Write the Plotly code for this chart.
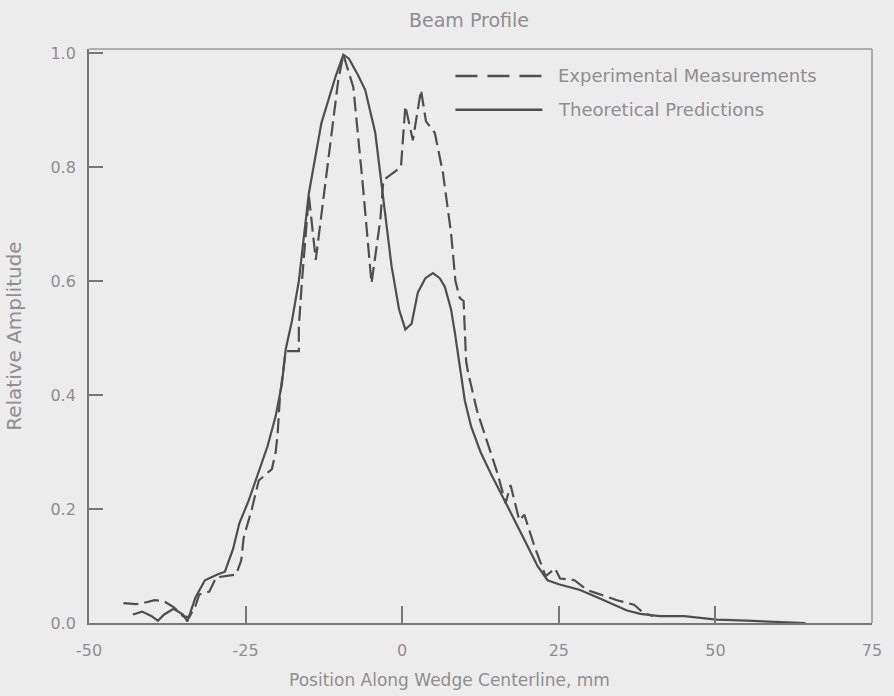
import plotly.graph_objects as go

# Beam profile along the wedge centreline (position in mm, relative amplitude)
exp_x = [-44.5, -42.5, -41, -39.5, -38, -36.5, -35, -34, -33, -32.4, -30.8, -29.7,
         -26.5, -25.7, -25.3, -24, -22.9, -20.8, -20.2, -19.9, -19.5, -18.6, -16.5,
         -16.5, -16, -15.3, -14.9, -13.8, -12, -10.2, -9.4, -7.8, -6.3, -4.9, -3.5,
         -3, -0.2, 0.5, 1.7, 3.0, 3.8, 5.2, 6.5, 7.8, 8.5, 9.2, 9.8, 10.0, 10.2, 10.5,
         12, 13.2, 15.2, 16.5, 17.3, 18.7, 19.5, 21.1, 22.9, 24.4, 25.2, 27.5, 29.5,
         31.1, 34.3, 37, 38.5, 40]
exp_y = [0.035, 0.033, 0.036, 0.04, 0.038, 0.028, 0.012, 0.01, 0.03, 0.05, 0.055, 0.08,
         0.085, 0.11, 0.15, 0.2, 0.25, 0.27, 0.3, 0.33, 0.4, 0.477, 0.477,
         0.52, 0.6, 0.7, 0.75, 0.637, 0.8, 0.953, 0.997, 0.94, 0.77, 0.596, 0.707,
         0.777, 0.80, 0.907, 0.847, 0.935, 0.88, 0.86, 0.79, 0.684, 0.60, 0.57, 0.565, 0.51, 0.46, 0.44,
         0.37, 0.33, 0.263, 0.21, 0.242, 0.18, 0.19, 0.135, 0.082, 0.096, 0.078, 0.075, 0.058,
         0.052, 0.04, 0.032, 0.018, 0.012]

theo_x = [-43, -41.5, -40, -39, -38, -36.5, -35, -34.3, -33, -31.5, -29.5, -28.3, -27, -26,
          -24.5, -23.2, -21.5, -20.2, -19.2, -18.6, -17.6, -16.5, -14.9, -12.9, -10.6, -9.4,
          -8.5, -7, -5.9, -4.3, -3.3, -1.7, -0.5, 0.5, 1.5, 2.5, 3.7, 4.9, 6, 6.8, 7.8, 8.4,
          10, 11, 12.5, 14.1, 16.3, 18, 19.5, 21.6, 23.2, 25, 28.4, 31.1, 33.2, 35.9, 38,
          41.1, 45, 50.2, 55, 60, 64.4]
theo_y = [0.015, 0.02, 0.012, 0.004, 0.015, 0.025, 0.015, 0.003, 0.045, 0.075, 0.085, 0.09,
          0.13, 0.175, 0.215, 0.258, 0.31, 0.363, 0.42, 0.48, 0.53, 0.6, 0.754, 0.877, 0.96,
          0.997, 0.99, 0.96, 0.935, 0.86, 0.77, 0.626, 0.55, 0.515, 0.525, 0.58, 0.605, 0.614,
          0.605, 0.59, 0.55, 0.51, 0.39, 0.345, 0.3, 0.263, 0.216, 0.18, 0.146, 0.1, 0.075,
          0.068, 0.058, 0.045, 0.035, 0.022, 0.016, 0.012, 0.012, 0.006, 0.004, 0.002, 0.0]

x_ticks = [-50, -25, 0, 25, 50, 75]
x_tick_text = ["-50", "-25", "0", "25", "50", "75"]
y_ticks = [0.0, 0.2, 0.4, 0.6, 0.8, 1.0]
y_tick_text = ["0.0", "0.2", "0.4", "0.6", "0.8", "1.0"]

series_names = ["Experimental Measurements", "Theoretical Predictions"]

INK = "#4e4e4e"
TEXT = "#8e8e8e"
AXIS = "#777777"
FRAME = "#999999"
BG = "#ececec"
FONT = "DejaVu Sans"

fig = go.Figure()
fig.add_trace(go.Scatter(x=exp_x, y=exp_y, mode="lines", name=series_names[0],
                         line=dict(color=INK, width=2.2, dash="15px,6px"),
                         showlegend=False))
fig.add_trace(go.Scatter(x=theo_x, y=theo_y, mode="lines", name=series_names[1],
                         line=dict(color=INK, width=2.2), showlegend=False))

# lighter top and right edges of the frame
fig.add_shape(type="line", xref="paper", yref="paper", x0=0, x1=1, y0=1, y1=1,
              line=dict(color=FRAME, width=1.5))
fig.add_shape(type="line", xref="paper", yref="paper", x0=1, x1=1, y0=0, y1=1,
              line=dict(color=FRAME, width=1.5))

# hand-drawn key in the upper right of the plot area
key_rows = [(0.953, "22px,10px"), (0.894, "solid")]
for (yy, dash), label in zip(key_rows, series_names):
    fig.add_shape(type="line", xref="paper", yref="paper", x0=0.468, x1=0.579,
                  y0=yy, y1=yy, line=dict(color=INK, width=2.5, dash=dash))
    fig.add_annotation(xref="paper", yref="paper", x=0.596, y=yy, text=label,
                       showarrow=False, xanchor="left", yanchor="middle",
                       font=dict(family=FONT, size=18, color=TEXT))

fig.add_annotation(xref="paper", yref="paper", x=0.485, y=1.05, text="Beam Profile",
                   showarrow=False, xanchor="center", yanchor="middle",
                   font=dict(family=FONT, size=19, color=TEXT))
fig.add_annotation(xref="paper", yref="paper", x=0.461, y=-0.099,
                   text="Position Along Wedge Centerline, mm",
                   showarrow=False, xanchor="center", yanchor="middle",
                   font=dict(family=FONT, size=17, color=TEXT))
fig.add_annotation(xref="paper", yref="paper", x=-0.096, y=0.5,
                   text="Relative Amplitude", textangle=-90,
                   showarrow=False, xanchor="center", yanchor="middle",
                   font=dict(family=FONT, size=20, color=TEXT))

fig.update_layout(
    width=894, height=696,
    margin=dict(l=89, r=17, t=49, b=73),
    paper_bgcolor=BG, plot_bgcolor=BG,
    font=dict(family=FONT, color=TEXT, size=16),
)
fig.update_xaxes(range=[-50, 75], tickvals=x_ticks, ticktext=x_tick_text,
                 ticks="inside", ticklen=17, tickwidth=1.5, tickcolor=AXIS,
                 showline=True, linecolor=AXIS, linewidth=1.8, mirror=False,
                 showgrid=False, zeroline=False, ticklabelstandoff=12,
                 tickfont=dict(family=FONT, size=16, color=TEXT))
fig.update_yaxes(range=[0, 1.007], tickvals=y_ticks, ticktext=y_tick_text,
                 ticks="inside", ticklen=14, tickwidth=1.5, tickcolor=AXIS,
                 showline=True, linecolor=AXIS, linewidth=1.8, mirror=False,
                 showgrid=False, zeroline=False, ticklabelstandoff=8,
                 tickfont=dict(family=FONT, size=16, color=TEXT))

fig.write_html("out.html")
